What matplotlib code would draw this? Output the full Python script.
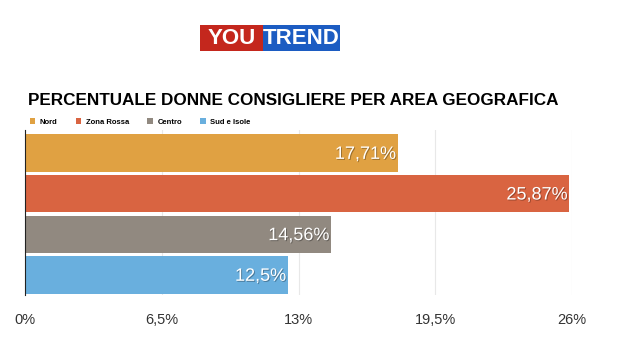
import matplotlib.pyplot as plt
from matplotlib import patheffects
from matplotlib.patches import Rectangle

plt.rcParams["font.family"] = ["Liberation Sans", "DejaVu Sans"]

regions = ["Nord", "Zona Rossa", "Centro", "Sud e Isole"]
values = [17.71, 25.87, 14.56, 12.5]
value_labels = ["17,71%", "25,87%", "14,56%", "12,5%"]
colors = ["#E0A142", "#D96441", "#918980", "#69AFDE"]
x_ticks = [0, 6.5, 13, 19.5, 26]
x_tick_labels = ["0%", "6,5%", "13%", "19,5%", "26%"]

W, H = 620, 352
fig = plt.figure(figsize=(W / 100, H / 100), dpi=100)
fig.patch.set_facecolor("white")

# axes placed in pixel terms
left, right, top, bottom = 25, 572, 130, 295
ax = fig.add_axes([left / W, 1 - bottom / H, (right - left) / W, (bottom - top) / H])

pos = list(range(len(regions)))
bars = ax.barh(pos, values, height=0.92, color=colors, label=regions, zorder=2)
ax.set_ylim(3.49, -0.57)
ax.set_xlim(0, 26)

shadow = [patheffects.withSimplePatchShadow(offset=(0.7, -0.7), shadow_rgbFace="black", alpha=0.3)]
for p, v, lab in zip(pos, values, value_labels):
    ax.text(v - 0.1, p + 0.03, lab, ha="right", va="center", color="white",
            fontsize=13, path_effects=shadow, zorder=3)

ax.set_xticks(x_ticks)
ax.set_xticklabels(x_tick_labels, fontsize=10.5, color="#333333")
ax.tick_params(axis="x", length=0, pad=13)
ax.set_yticks([])
ax.grid(axis="x", color="#E8E8E8", linewidth=0.8, zorder=0)
for s in ["top", "right", "bottom"]:
    ax.spines[s].set_visible(False)
ax.spines["left"].set_color("#222222")
ax.spines["left"].set_linewidth(0.8)

fig.legend(handles=bars, labels=regions, loc="center left",
           bbox_to_anchor=(23 / W, 1 - 122 / H), ncol=4, frameon=False,
           prop={"size": 5.5, "weight": "bold"}, handlelength=0.7, handleheight=0.7,
           handletextpad=0.6, columnspacing=2.4)

fig.text(293 / W, 1 - 101 / H, "PERCENTUALE DONNE CONSIGLIERE PER AREA GEOGRAFICA",
         ha="center", va="center", fontsize=12.3, fontweight="bold", color="black")

# logo
fig.add_artist(Rectangle((200 / W, 1 - 51 / H), 63 / W, 26 / H, transform=fig.transFigure,
                         facecolor="#C4271D", edgecolor="none"))
fig.add_artist(Rectangle((263 / W, 1 - 51 / H), 77 / W, 26 / H, transform=fig.transFigure,
                         facecolor="#1C5CC2", edgecolor="none"))
fig.text(231.5 / W, 1 - 38 / H, "YOU", ha="center", va="center", color="white",
         fontsize=16, fontweight="bold")
fig.text(301.5 / W, 1 - 38 / H, "TREND", ha="center", va="center", color="white",
         fontsize=16, fontweight="bold")

fig.savefig("out.png", dpi=100)
